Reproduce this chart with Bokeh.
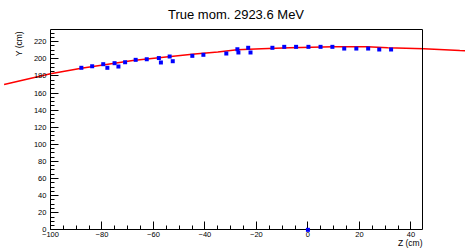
from bokeh.plotting import figure
from bokeh.models import Range1d, LinearAxis, FixedTicker, Label
from bokeh.embed import file_html
from bokeh.resources import INLINE

# ---- data ----
title_text = "True mom. 2923.6 MeV"
x_title = "Z (cm)"
y_title = "Y (cm)"

z_hits = [-88.0, -83.8, -79.5, -77.9, -75.1, -73.6, -71.0, -66.9, -62.6, -57.9,
          -57.1, -53.7, -52.5, -44.9, -40.6, -31.7, -27.4, -27.0, -23.2, -22.3,
          -13.8, -9.2, -4.6, 0.2, 4.9, 9.5, 14.1, 18.8, 23.4, 27.7, 32.3, 0.0]
y_hits = [189.5, 191.3, 193.7, 189.5, 194.9, 191.0, 196.0, 198.8, 199.5, 200.9,
          195.7, 202.7, 197.2, 203.5, 204.7, 206.2, 211.2, 207.4, 212.9, 207.4,
          212.9, 214.0, 214.0, 214.0, 214.0, 214.0, 212.0, 212.0, 212.0, 210.9, 210.9, 0.0]

z_fit = [-118, -100, -88, -68, -57, -44, -35, -27.5, -18, -7, 10, 23, 31, 45, 59, 62]
y_fit = [170, 182.5, 189, 198, 201.5, 205.5, 208, 210.5, 211.8, 213, 214, 214, 213, 211.7, 209.7, 209.3]

x_ticks = [-100, -80, -60, -40, -20, 0, 20, 40]
y_ticks = [0, 20, 40, 60, 80, 100, 120, 140, 160, 180, 200, 220]
x_frame = (-100, 44.5)
y_frame = (0, 234.3)

x_minor = list(range(-100, 45, 5))
y_minor = list(range(0, 235, 5))

FONT = "Liberation Sans"

p = figure(width=465, height=249, output_backend="svg", toolbar_location=None,
           x_range=Range1d(-119.4, 61.2), y_range=Range1d(-23.0, 268.2),
           min_border=0, min_border_left=0, min_border_right=0,
           min_border_top=0, min_border_bottom=0)
p.outline_line_color = None
p.grid.visible = False
p.background_fill_color = "white"
p.border_fill_color = "white"

# fit curve
p.line(z_fit, y_fit, line_color="#ff0000", line_width=1.5)
# hits
p.scatter(z_hits, y_hits, marker="square", size=4, fill_color="#0000ff",
          line_color=None, level="annotation")

def style_axis(ax, ticks, minor, bounds, fixed):
    ax.fixed_location = fixed
    ax.bounds = bounds
    ax.ticker = FixedTicker(ticks=ticks, minor_ticks=minor)
    ax.axis_line_color = "black"
    ax.axis_line_width = 1
    ax.major_tick_in = 8
    ax.major_tick_out = 0
    ax.minor_tick_in = 4
    ax.minor_tick_out = 0
    ax.major_tick_line_color = "black"
    ax.minor_tick_line_color = "black"
    ax.major_label_text_font = FONT
    ax.major_label_text_font_size = "7.5px"
    ax.major_label_text_color = "black"

xa = p.xaxis[0]
style_axis(xa, x_ticks, x_minor, x_frame, 0)
xa.major_label_standoff = 2
ya = p.yaxis[0]
style_axis(ya, y_ticks, y_minor, y_frame, -100)
ya.major_label_standoff = 4
ya.major_label_orientation = "horizontal"

# frame: top and right edges
top = LinearAxis(fixed_location=y_frame[1], bounds=x_frame, ticker=FixedTicker(ticks=[]),
                 major_label_text_font_size="0px", axis_line_color="black",
                 major_tick_line_color=None, minor_tick_line_color=None)
p.add_layout(top, "above")
right = LinearAxis(fixed_location=x_frame[1], bounds=y_frame, ticker=FixedTicker(ticks=[]),
                   major_label_text_font_size="0px", axis_line_color="black",
                   major_tick_line_color=None, minor_tick_line_color=None)
p.add_layout(right, "right")

# titles
p.add_layout(Label(x=235.5, y=235, x_units="screen", y_units="screen", text=title_text,
                   text_font=FONT, text_font_size="13px", text_align="center",
                   text_baseline="middle", text_color="black"))
p.add_layout(Label(x=x_frame[1], y=-15.4, text=x_title, text_font=FONT,
                   text_font_size="8.5px", text_align="right", text_baseline="middle",
                   text_color="black"))
p.add_layout(Label(x=-112.4, y=y_frame[1] - 2, text=y_title, text_font=FONT,
                   text_font_size="8.5px", text_align="right", text_baseline="middle",
                   angle=1.5708, text_color="black"))

open("out.html", "w").write(file_html(p, INLINE))
